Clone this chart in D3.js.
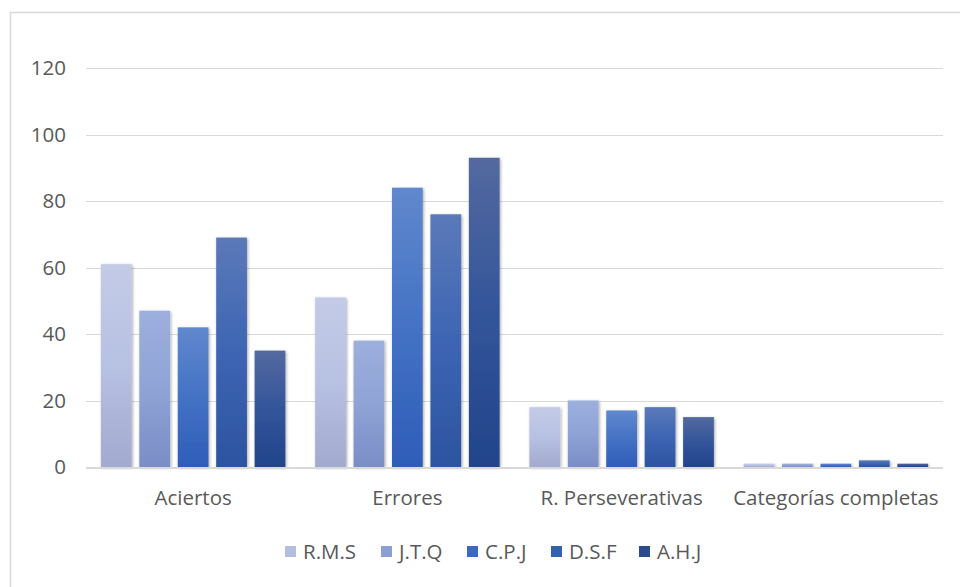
<!DOCTYPE html>
<html><head><meta charset="utf-8">
<script src="https://cdn.jsdelivr.net/npm/d3@7"></script>
<style>body{margin:0;background:#fff}svg{display:block}</style>
</head><body>
<script>
const categories = ["Aciertos","Errores","R. Perseverativas","Categorías completas"];
const seriesNames = ["R.M.S","J.T.Q","C.P.J","D.S.F","A.H.J"];
const RMS = [61,51,18,1];
const JTQ = [47,38,20,1];
const CPJ = [42,84,17,1];
const DSF = [69,76,18,2];
const AHJ = [35,93,15,1];
const yTicks = [0,20,40,60,80,100,120];

const seriesValues = [RMS,JTQ,CPJ,DSF,AHJ];
const gradTop = ["#c3cbe7","#9cafdd","#6088cd","#5b79b9","#54699f"];
const gradMid = ["#b7c1e2","#8fa3d6","#4472c4","#3d65b3","#33559a"];
const gradBot = ["#a2aacf","#7a8dc6","#2e5db8","#2c54a0","#21448a"];
const legendCol = ["#b4bee0","#8a9fd4","#3b69c0","#3460ac","#2a4c8e"];

const W=960,H=587;
const svg=d3.select("body").append("svg").attr("width",W).attr("height",H);
const defs=svg.append("defs");
seriesNames.forEach((s,i)=>{
  const g=defs.append("linearGradient").attr("id","g"+i).attr("x1",0).attr("y1",0).attr("x2",0).attr("y2",1);
  g.append("stop").attr("offset","0%").attr("stop-color",gradTop[i]);
  g.append("stop").attr("offset","50%").attr("stop-color",gradMid[i]);
  g.append("stop").attr("offset","100%").attr("stop-color",gradBot[i]);
});
const f=defs.append("filter").attr("id","sh").attr("x","-30%").attr("y","-10%").attr("width","160%").attr("height","120%");
f.append("feDropShadow").attr("dx",1).attr("dy",1).attr("stdDeviation",1.6).attr("flood-color","#000").attr("flood-opacity",0.35);

svg.append("rect").attr("x",10.5).attr("y",12.5).attr("width",980).attr("height",600)
  .attr("fill","none").attr("stroke","#d9d9d9").attr("stroke-width",1.5);

const pLeft=86,pRight=943,pTop=68,pBottom=467;
const y=d3.scaleLinear().domain([0,120]).range([pBottom,pTop]);
const x0=d3.scaleBand().domain(categories).range([pLeft,pRight]).paddingInner(0.139).paddingOuter(0.0695);
const x1=d3.scaleBand().domain(seriesNames).range([0,x0.bandwidth()]).paddingInner(0.2);

const font="'Open Sans', sans-serif";
const fs=20.5;
svg.append("g").selectAll("line").data(yTicks.filter(t=>t>0)).join("line")
  .attr("x1",pLeft).attr("x2",pRight).attr("y1",d=>Math.round(y(d))+0.5).attr("y2",d=>Math.round(y(d))+0.5)
  .attr("stroke","#d9d9d9").attr("stroke-width",1);

const yAxis=d3.axisLeft(y).tickValues(yTicks).tickSize(0).tickPadding(0);
const ga=svg.append("g").attr("transform",`translate(66,0)`).call(yAxis);
ga.select(".domain").remove();
ga.selectAll("text").attr("font-family",font).attr("font-size",fs).attr("fill","#595959");

const groups=svg.append("g").selectAll("g").data(categories).join("g")
  .attr("transform",c=>`translate(${x0(c)},0)`);
groups.selectAll("rect").data((c,ci)=>seriesNames.map((s,si)=>({s,si,v:seriesValues[si][ci]}))).join("rect")
  .attr("x",d=>x1(d.s)).attr("width",x1.bandwidth())
  .attr("y",d=>y(d.v)).attr("height",d=>y(0)-y(d.v))
  .attr("fill",d=>`url(#g${d.si})`).attr("filter","url(#sh)");

svg.append("line").attr("x1",pLeft).attr("x2",pRight).attr("y1",pBottom+1).attr("y2",pBottom+1)
  .attr("stroke","#d9d9d9").attr("stroke-width",2);

const xAxis=d3.axisBottom(x0).tickSize(0).tickPadding(0);
const gx=svg.append("g").attr("transform",`translate(0,${pBottom+31})`).call(xAxis);
gx.select(".domain").remove();
gx.selectAll("text").attr("font-family",font).attr("font-size",fs).attr("fill","#595959").attr("dy","0.35em");

const legX=[285,381,467,551,639];
const lg=svg.append("g").selectAll("g").data(seriesNames).join("g")
  .attr("transform",(d,i)=>`translate(${legX[i]},546)`);
lg.append("rect").attr("width",11).attr("height",11).attr("fill",(d,i)=>legendCol[i]);
lg.append("text").attr("x",18).attr("y",5.5).attr("dy","0.35em").text(d=>d)
  .attr("font-family",font).attr("font-size",fs).attr("fill","#595959");
</script>
</body></html>
